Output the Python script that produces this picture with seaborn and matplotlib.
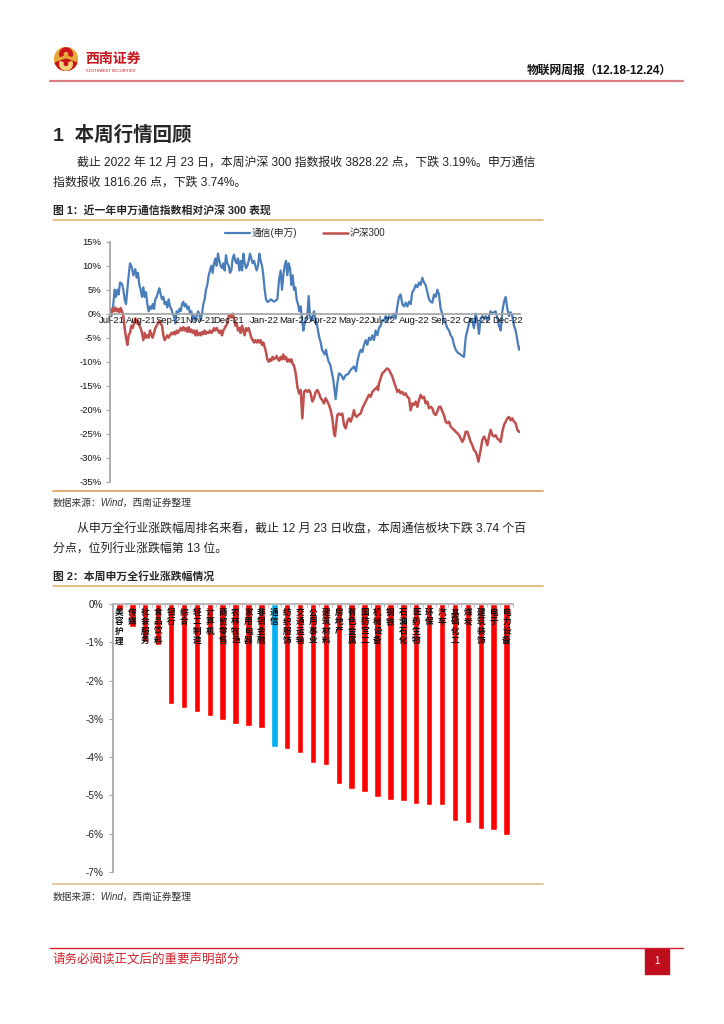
import matplotlib
matplotlib.use("Agg")
import matplotlib.pyplot as plt
import matplotlib.ticker as mticker
from matplotlib.lines import Line2D
from matplotlib.patches import Circle, Wedge, Rectangle
import numpy as np
import pandas as pd
import seaborn as sns

# ---- data: figure 1, relative performance (day index, %) ----
telecom = [
    (0, 0.0), (4, -0.5), (10, 2), (14, 5), (18, 3.5), (22, 5), (26, 4), (30, 6.5), (36, 6.2), (40, 5),
    (44, 3), (48, 2), (52, 5), (56, 8), (60, 10.5), (66, 9.5), (70, 8), (76, 9.3), (80, 7.5), (84, 8.5),
    (88, 6), (92, 5), (96, 3.5), (100, 5.5), (104, 3.5), (108, 4.5), (112, 2), (116, 0.5), (120, 1.5),
    (124, 1), (128, 2), (132, 1), (136, 3), (140, 3.5), (144, 4.5), (148, 5.3), (152, 4), (156, 3),
    (160, 3.5), (164, 2), (168, 2.5), (172, 1.3), (176, 3), (180, 1.5), (184, 1), (188, 0), (192, -0.5),
    (196, -2), (200, 0.5), (204, 0), (208, 1), (212, 0.5), (216, 2), (220, 2.5), (224, 1.5), (228, 2),
    (232, 1), (236, 1.5), (240, 0), (244, 0.5), (248, -1), (252, -0.5), (256, -1.5), (260, -0.5),
    (264, 0.5), (268, 0), (272, -1.5), (276, 0), (280, 2), (284, 3), (288, 5), (292, 6), (296, 8),
    (300, 9), (304, 10), (308, 8.5), (312, 10.5), (316, 11.5), (320, 10), (324, 12.5), (328, 11),
    (332, 10), (336, 9.5), (340, 10.5), (344, 9), (348, 12.2), (352, 10.5), (356, 10), (360, 8.5),
    (364, 9), (368, 11.5), (372, 12.3), (376, 11), (380, 10.5), (384, 11.5), (388, 9), (392, 11),
    (396, 9), (400, 12.5), (404, 10.5), (408, 9.5), (412, 10), (416, 11), (420, 12.5), (424, 11.5),
    (428, 10.5), (432, 11), (436, 10), (440, 9), (444, 10), (448, 12.5), (452, 11), (456, 10), (460, 8),
    (464, 5), (468, 3), (472, 2.5), (476, 2.5), (482, 3), (492, 2.5), (502, 3), (507, 7), (512, 9),
    (516, 5), (520, 8), (524, 10), (528, 11), (532, 8), (536, 10.5), (540, 9.5), (544, 6), (548, 8),
    (552, 5), (556, 5.5), (560, 3), (564, 2), (568, 0.5), (572, 1.5), (576, -1), (580, -3.5), (584, -2),
    (588, -1), (592, -0.5), (596, 3.7), (600, -0.5), (604, -1.5), (608, -0.5), (612, 0.5), (616, -1),
    (620, -2), (624, -3.5), (628, -5), (632, -6), (636, -7.5), (640, -8), (644, -8.5), (648, -7.5),
    (652, -9), (656, -10), (660, -10.5), (662, -11), (670, -13.8), (677, -17.8), (682, -14.5),
    (687, -12.4), (694, -12.8), (700, -13.7), (707, -12.8), (714, -12.6), (722, -11.7), (732, -11),
    (738, -12), (742, -10), (747, -8.5), (752, -7.5), (757, -8), (762, -6.5), (767, -5.5), (772, -6.5),
    (777, -5), (782, -5.5), (787, -4.5), (792, -5.5), (797, -3.5), (802, -4.5), (807, -3), (812, -2.5),
    (817, -1.3), (822, -1.5), (827, -0.5), (832, -1.5), (837, -0.5), (842, -1), (847, -0.5), (852, 0),
    (857, -1), (862, 1.5), (867, 3.5), (872, 4), (877, 2), (882, 1.5), (887, 2.3), (892, 1.5),
    (897, 2.5), (902, 2), (907, 4.5), (912, 5), (917, 6), (922, 5.5), (927, 6.5), (932, 6), (937, 7.5),
    (942, 6.5), (947, 6), (952, 4.5), (957, 3), (962, 2.5), (967, 2.3), (972, 4), (977, 3.5), (982, 5),
    (987, 4), (992, 1), (997, 0), (1002, -1.5), (1007, -2), (1012, -3), (1017, -3.5), (1022, -4.5),
    (1027, -5), (1032, -6.5), (1037, -7.5), (1042, -8), (1047, -8.3), (1052, -8.5), (1057, -8.8),
    (1062, -9), (1067, -5), (1072, -3.5), (1077, -2), (1082, -1), (1087, -1.5), (1092, -3), (1097, 0),
    (1102, -1.5), (1107, -4.2), (1112, -1), (1117, -0.5), (1122, -1), (1127, -0.5), (1132, -1.5),
    (1137, -0.5), (1142, 0.5), (1147, 0), (1152, 0.3), (1157, 0.5), (1162, -1), (1167, -2.5),
    (1172, -3.5), (1177, 0.5), (1182, 2.5), (1187, 3.5), (1192, 1), (1197, -0.5), (1202, 0.3),
    (1207, -0.5), (1212, -2.5), (1217, -3.5), (1222, -5.5), (1227, -7.5), (1230, -7),
]

hs300 = [
    (0, 1), (4, 0), (8, 1), (12, 0.5), (16, 1.3), (20, 0.5), (24, 1), (28, 0.3), (32, 1.2), (36, 0.5),
    (40, -0.5), (44, -3), (48, -5), (52, -6.5), (56, -4.5), (60, -4), (64, -2.5), (68, -3), (72, -2),
    (76, -1), (80, -2), (84, -1.5), (88, -2.5), (92, -3), (96, -4), (100, -5.5), (104, -4), (108, -5),
    (112, -4.5), (116, -5), (120, -3.5), (124, -4.5), (128, -5), (132, -4), (136, -3), (140, -2.5),
    (144, -2), (148, -1.5), (152, -2), (156, -2.5), (160, -4.5), (164, -5.5), (168, -5), (172, -4.5),
    (176, -5), (180, -4.5), (184, -4), (188, -4.3), (192, -3.8), (196, -4.3), (200, -3.5), (204, -4),
    (208, -3.5), (212, -3), (216, -3.5), (220, -2.8), (224, -3.5), (228, -3), (232, -3.8), (236, -2.8),
    (240, -3.8), (244, -3.3), (248, -4), (252, -3.5), (256, -4.5), (260, -3.5), (264, -4.5), (268, -4),
    (272, -4.5), (276, -3.8), (280, -4.3), (284, -3.5), (288, -4.2), (292, -3.8), (296, -4),
    (300, -3.5), (304, -4), (308, -3.7), (312, -3), (316, -3.5), (320, -3), (324, -3.5), (328, -4),
    (332, -3.5), (336, -4.5), (340, -3.5), (344, -3), (348, -2.5), (352, -2), (356, -0.5), (360, -0.3),
    (364, -0.8), (368, 0), (372, -1), (376, -2.5), (380, -2), (384, -3.5), (388, -3), (392, -4),
    (396, -2.5), (400, -3.5), (404, -4.5), (408, -3), (412, -3.5), (416, -3), (420, -4), (424, -5),
    (428, -5.5), (432, -6), (436, -5.5), (440, -6), (444, -5.5), (448, -6), (452, -5.5), (456, -6.5),
    (460, -6), (464, -7), (468, -8), (472, -9.5), (476, -10), (480, -9.5), (484, -9.8), (488, -9),
    (492, -9.5), (496, -9.2), (500, -8.8), (504, -9.5), (508, -9.8), (512, -9), (516, -9.5),
    (520, -8.5), (524, -9.5), (528, -9), (532, -10), (536, -9.5), (540, -10), (544, -9.5), (548, -10.5),
    (552, -10.8), (557, -12.4), (562, -15.2), (567, -16.6), (572, -15.9), (577, -21.8), (582, -16.3),
    (587, -15.9), (592, -16.3), (597, -15.9), (602, -16.6), (607, -18.3), (612, -17.6), (617, -16.3),
    (622, -15.9), (627, -16.6), (632, -17.6), (637, -18), (642, -18.7), (647, -17.6), (652, -18.3),
    (657, -19), (662, -20.1), (667, -21.8), (672, -24.9), (675, -25.5), (678, -23.5), (682, -21.1),
    (687, -20.8), (692, -21.1), (697, -20.8), (702, -23.2), (707, -23.9), (712, -22.5), (717, -21.8),
    (722, -22.5), (727, -21.5), (732, -20.1), (735, -21.1), (740, -21.5), (745, -21.1), (752, -20.8),
    (757, -19.7), (762, -19), (767, -18.3), (772, -17.6), (777, -16.9), (782, -17.3), (787, -16.3),
    (792, -15.9), (797, -15.6), (802, -15.2), (804, -15.9), (807, -14.5), (812, -13.5), (817, -12.4),
    (822, -12.1), (827, -11.7), (832, -11.4), (837, -11.7), (842, -12.4), (847, -13.1), (852, -14.2),
    (857, -15.2), (862, -16.3), (867, -15.9), (872, -16.6), (877, -16.3), (882, -16.9), (887, -16.6),
    (892, -17.3), (897, -17.6), (902, -20.1), (907, -18.7), (912, -19), (917, -18.3), (922, -19.4),
    (927, -18), (932, -16.9), (937, -17.6), (942, -17.3), (947, -18.7), (952, -18.3), (957, -19.7),
    (962, -19.4), (967, -19.7), (972, -20.8), (977, -21.1), (982, -20.4), (987, -19.4), (992, -19.4),
    (997, -20.4), (1002, -21.1), (1007, -22.5), (1012, -22.8), (1017, -22.5), (1022, -23.5),
    (1027, -23.9), (1032, -24.2), (1037, -24.6), (1042, -24.9), (1047, -25.3), (1052, -26),
    (1057, -26.7), (1062, -26), (1067, -24.6), (1072, -24.6), (1077, -25.6), (1082, -26.7),
    (1087, -27.4), (1092, -28.4), (1097, -28.8), (1102, -29.8), (1105, -30.8), (1108, -29.8),
    (1112, -28.4), (1117, -26.3), (1122, -25.6), (1127, -26.3), (1132, -27.4), (1137, -25.6),
    (1142, -24.2), (1147, -25.3), (1152, -25.6), (1157, -25.3), (1162, -26), (1167, -26.3),
    (1172, -26.7), (1177, -24.6), (1182, -23.2), (1187, -22.5), (1192, -21.8), (1197, -21.5),
    (1202, -22.2), (1207, -21.8), (1212, -22.5), (1217, -22.8), (1222, -24.2), (1227, -24.6),
    (1230, -24.6),
]

month_ticks = [6, 93, 183, 272, 357, 464, 553, 641, 733, 819, 912, 1007, 1102, 1194]
month_labels = ["Jul-21", "Aug-21", "Sep-21", "Nov-21", "Dec-21", "Jan-22", "Mar-22",
                "Apr-22", "May-22", "Jul-22", "Aug-22", "Sep-22", "Oct-22", "Dec-22"]

# ---- data: figure 2, weekly change by SW industry (%) ----
industries = ["美容护理", "传媒", "社会服务", "食品饮料", "银行", "综合", "轻工制造", "计算机",
              "商贸零售", "农林牧渔", "家用电器", "非银金融", "通信", "纺织服饰", "交通运输",
              "公用事业", "建筑材料", "房地产", "有色金属", "国防军工", "机械设备", "钢铁",
              "石油石化", "医药生物", "环保", "汽车", "基础化工", "煤炭", "建筑装饰", "电子",
              "电力设备"]
weekly_change = [-0.16, -0.59, -1.0, -1.07, -2.6, -2.71, -2.82, -2.92, -3.03, -3.14, -3.18,
                 -3.23, -3.74, -3.78, -3.88, -4.15, -4.21, -4.69, -4.83, -4.91, -5.03, -5.12,
                 -5.15, -5.23, -5.25, -5.26, -5.67, -5.73, -5.87, -5.89, -6.03]

W, H = 724, 1024


def fx(px):
    return px / W


def fy(py):
    return 1 - py / H


sns.set_theme(style="white")
plt.rcParams['font.family'] = ['Liberation Sans', 'Noto Sans CJK SC', 'DejaVu Sans']
plt.rcParams['axes.unicode_minus'] = False

fig = plt.figure(figsize=(7.24, 10.24), dpi=100)

# ---- header ----
logo = fig.add_axes([fx(54), fy(71), 24 / W, 24 / H])
logo.set_xlim(-1.05, 1.05)
logo.set_ylim(-1.05, 1.05)
logo.set_aspect('equal')
logo.axis('off')
logo.add_patch(Circle((0, 0), 1, color='#e9a93a'))
logo.add_patch(Wedge((0, 0), 1, 200, 340, color='#c9161d'))
logo.add_patch(Wedge((0, 0.42), 0.55, -20, 200, width=0.28, color='#c9161d'))
logo.add_patch(Wedge((0, -0.42), 0.55, 160, 380, width=0.28, color='#f3d27a'))
fig.text(fx(85), fy(59), "西南证券", fontsize=10, fontweight='bold', color='#c9161d', va='center')
fig.text(fx(86), fy(71), "SOUTHWEST SECURITIES", fontsize=2.8, color='#c9161d', va='center')
fig.text(fx(672), fy(71), "物联网周报（12.18-12.24）", fontsize=8.5, fontweight='bold',
         ha='right', va='center', color='#111111')
fig.add_artist(Line2D([fx(50), fx(683)], [fy(81)] * 2, color='#d87f86', lw=1.6))

# ---- section text ----
fig.text(fx(53), fy(135), "1  本周行情回顾", fontsize=14, fontweight='bold', va='center')
fig.text(fx(77), fy(163), "截止 2022 年 12 月 23 日，本周沪深 300 指数报收 3828.22 点，下跌 3.19%。申万通信",
         fontsize=8.6, va='center', color='#222222')
fig.text(fx(53), fy(183), "指数报收 1816.26 点，下跌 3.74%。", fontsize=8.6, va='center', color='#222222')
fig.text(fx(53), fy(210), "图 1：近一年申万通信指数相对沪深 300 表现", fontsize=7.8, fontweight='bold', va='center')
fig.add_artist(Line2D([fx(53), fx(543)], [fy(219.5)] * 2, color='#e2b56e', lw=1.2))

# ---- figure 1: line chart ----
ax1 = fig.add_axes([fx(110), fy(481.7), (520 - 110) / W, (481.7 - 241.7) / H])
df_tel = pd.DataFrame(telecom, columns=["day", "value"])
df_hs = pd.DataFrame(hs300, columns=["day", "value"])
sns.lineplot(data=df_tel, x="day", y="value", color='#4a7ebb', lw=1.6, estimator=None, ax=ax1)
sns.lineplot(data=df_hs, x="day", y="value", color='#c0504d', lw=1.8, estimator=None, ax=ax1)
ax1.set_axisbelow(False)
ax1.set_xlim(0, 1230)
ax1.set_ylim(-35, 15)
ax1.set_yticks(range(-35, 16, 5))
ax1.yaxis.set_major_formatter(mticker.FuncFormatter(lambda v, _: f"{v:.0f}%"))
ax1.set_xticks(month_ticks)
ax1.set_xticklabels(month_labels)
ax1.set_xlabel("")
ax1.set_ylabel("")
for s in ["top", "right"]:
    ax1.spines[s].set_visible(False)
ax1.spines["bottom"].set_position(("data", 0))
ax1.spines["bottom"].set_color('#a6a6a6')
ax1.spines["left"].set_color('#a6a6a6')
ax1.tick_params(axis='x', length=0, pad=1.5, labelsize=6.8, colors='#111111')
ax1.tick_params(axis='y', length=3, width=0.8, color='#a6a6a6', direction='out',
                left=True, labelsize=6.8, pad=3, labelcolor='#111111')
ax1.set_facecolor('none')

handles = [Line2D([], [], color='#4a7ebb', lw=1.6), Line2D([], [], color='#c0504d', lw=1.8)]
fig.legend(handles, ["通信(申万)", "沪深300"], loc='center', bbox_to_anchor=(fx(305), fy(233)),
           ncol=2, frameon=False, fontsize=7, handlelength=2.6, handletextpad=0.15, columnspacing=2.6)

fig.add_artist(Line2D([fx(53), fx(543)], [fy(491)] * 2, color='#e39c55', lw=1.2))
fig.text(fx(53), fy(503), "数据来源：Wind，西南证券整理", fontsize=7, style='italic', va='center', color='#333333')

# ---- second paragraph ----
fig.text(fx(77), fy(530), "从申万全行业涨跌幅周排名来看，截止 12 月 23 日收盘，本周通信板块下跌 3.74 个百",
         fontsize=8.6, va='center', color='#222222')
fig.text(fx(53), fy(550), "分点，位列行业涨跌幅第 13 位。", fontsize=8.6, va='center', color='#222222')
fig.text(fx(53), fy(576), "图 2：本周申万全行业涨跌幅情况", fontsize=7.8, fontweight='bold', va='center')
fig.add_artist(Line2D([fx(53), fx(543)], [fy(586)] * 2, color='#e2b56e', lw=1.2))

# ---- figure 2: bar chart ----
ax2 = fig.add_axes([fx(113), fy(872), 400 / W, (872 - 604) / H])
df_ind = pd.DataFrame({"industry": industries, "change": weekly_change})
palette = {n: ('#00b0f0' if n == "通信" else '#ff0000') for n in industries}
sns.barplot(data=df_ind, x="industry", y="change", hue="industry", palette=palette,
            width=0.5, saturation=1, legend=False, ax=ax2)
ax2.set_xlim(-0.5, len(industries) - 0.5)
ax2.set_ylim(-7, 0)
ax2.set_yticks(range(-7, 1))
ax2.yaxis.set_major_formatter(mticker.FuncFormatter(lambda v, _: f"{v:.0f}%"))
ax2.set_xlabel("")
ax2.set_ylabel("")
ax2.xaxis.tick_top()
ax2.set_xticks(np.arange(-0.5, len(industries), 1))
ax2.set_xticklabels([])
ax2.tick_params(axis='x', length=2, width=0.6, color='#b0b0b0', direction='in', top=True)
ax2.tick_params(axis='y', length=3, width=0.8, color='#a6a6a6', direction='out',
                left=True, labelsize=7.2, pad=4, labelcolor='#222222')
for s in ["bottom", "right"]:
    ax2.spines[s].set_visible(False)
ax2.spines["top"].set_color('#b0b0b0')
ax2.spines["left"].set_color('#a6a6a6')
ax2.set_facecolor('none')
for i, name in enumerate(industries):
    ax2.text(i, -0.1, "\n".join(name), ha='center', va='top', fontsize=6.2,
             fontweight='bold', linespacing=1.05, color='#111111')

fig.add_artist(Line2D([fx(53), fx(543)], [fy(884)] * 2, color='#dfc08a', lw=1.2))
fig.text(fx(53), fy(897), "数据来源：Wind，西南证券整理", fontsize=7, style='italic', va='center', color='#333333')

# ---- footer ----
fig.add_artist(Line2D([fx(50), fx(683)], [fy(948)] * 2, color='#d0202a', lw=1.0))
fig.text(fx(53), fy(960), "请务必阅读正文后的重要声明部分", fontsize=9, color='#d0202a', va='center')
fig.add_artist(Rectangle((fx(645), fy(974)), 24 / W, 25 / H, color='#c00d1e', transform=fig.transFigure))
fig.text(fx(657), fy(961.5), "1", fontsize=7, color='white', ha='center', va='center')

fig.savefig("out.png", dpi=100, facecolor='white')
